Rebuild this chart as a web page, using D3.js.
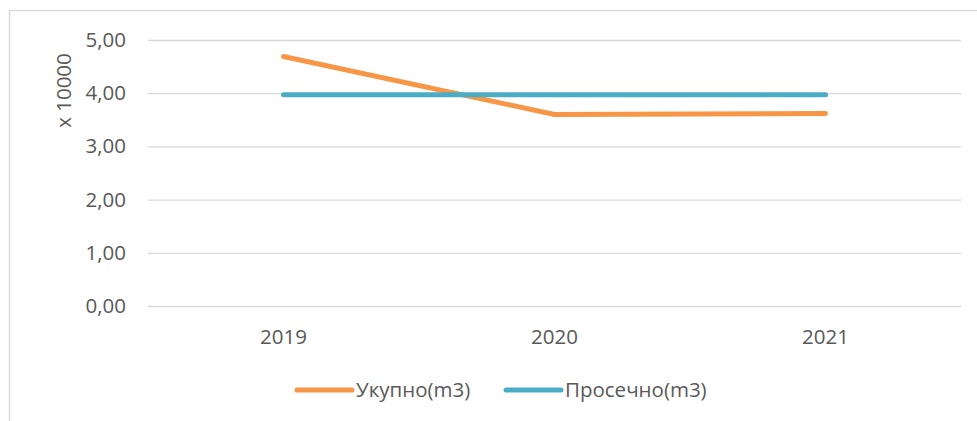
<!DOCTYPE html>
<html>
<head>
<meta charset="utf-8">
<script src="https://cdn.jsdelivr.net/npm/d3@7"></script>
<style>
    body { margin: 0; background: #fff; }
    text { font-family: "Open Sans", "Noto Sans", sans-serif; fill: #595959; }
</style>
</head>
<body>
<div id="chart"></div>
<script>
// years on the x axis
const years = ["2019", "2020", "2021"]
// values in units of 10000 m3
const ukupno = [4.69, 3.60, 3.62]
const prosecno = [3.97, 3.97, 3.97]
const seriesNames = ["Укупно(m3)", "Просечно(m3)"]
const seriesColors = ["#F79646", "#4BACC6"]
const yTicks = [0, 1, 2, 3, 4, 5]

drawChart()

function drawChart() {
    const W = 977, H = 421
    const FONT = "20.5px"
    let margin = { top: 40, right: 16, bottom: 115, left: 148 }
    let width = W - margin.left - margin.right
    let height = H - margin.top - margin.bottom

    let svg = d3.select("#chart")
        .append("svg")
        .attr("width", W)
        .attr("height", H)

    // chart area border (runs off the right and bottom of the picture)
    svg.append("rect")
        .attr("x", 9.5)
        .attr("y", 10.5)
        .attr("width", W + 20)
        .attr("height", H + 20)
        .attr("fill", "none")
        .attr("stroke", "#d9d9d9")
        .attr("stroke-width", 1.5)

    let g = svg.append("g")
        .attr("transform", "translate(" + margin.left + "," + margin.top + ")")

    let x = d3.scaleBand()
        .domain(years)
        .range([0, width])

    let y = d3.scaleLinear()
        .domain([0, 5])
        .range([height, 0])

    // gridlines + y labels
    let yAxis = g.append("g")
        .call(d3.axisLeft(y)
            .tickValues(yTicks)
            .tickSize(-width)
            .tickPadding(22)
            .tickFormat(d => d3.format(".2f")(d).replace(".", ",")))
    yAxis.select(".domain").remove()
    yAxis.selectAll("line").attr("stroke", "#d9d9d9").attr("stroke-width", 1.3)
    yAxis.selectAll("text").style("font-size", FONT).attr("fill", "#595959")

    // x labels
    let xAxis = g.append("g")
        .attr("transform", "translate(0," + height + ")")
        .call(d3.axisBottom(x).tickSize(0).tickPadding(23))
    xAxis.select(".domain").remove()
    xAxis.selectAll("text").style("font-size", FONT).attr("fill", "#595959")

    // y axis title
    g.append("text")
        .attr("transform", "translate(" + (-77) + "," + y(4.05) + ")rotate(-90)")
        .attr("text-anchor", "middle")
        .style("font-size", FONT)
        .text("x 10000")

    let line = d3.line()
        .x((d, i) => x(years[i]) + x.bandwidth() / 2)
        .y(d => y(d))

    let allSeries = [ukupno, prosecno]
    allSeries.forEach((s, i) => {
        g.append("path")
            .datum(s)
            .attr("d", line)
            .attr("fill", "none")
            .attr("stroke", seriesColors[i])
            .attr("stroke-width", 5)
            .attr("stroke-linecap", "round")
            .attr("stroke-linejoin", "round")
    })

    // legend
    let legendX = [297, 506]
    let legend = svg.append("g").attr("transform", "translate(0,390)")
    seriesNames.forEach((name, i) => {
        legend.append("line")
            .attr("x1", legendX[i])
            .attr("x2", legendX[i] + 55)
            .attr("stroke", seriesColors[i])
            .attr("stroke-width", 5)
            .attr("stroke-linecap", "round")
        legend.append("text")
            .attr("x", legendX[i] + 59)
            .attr("dy", "0.35em")
            .style("font-size", FONT)
            .text(name)
    })
}
</script>
</body>
</html>
